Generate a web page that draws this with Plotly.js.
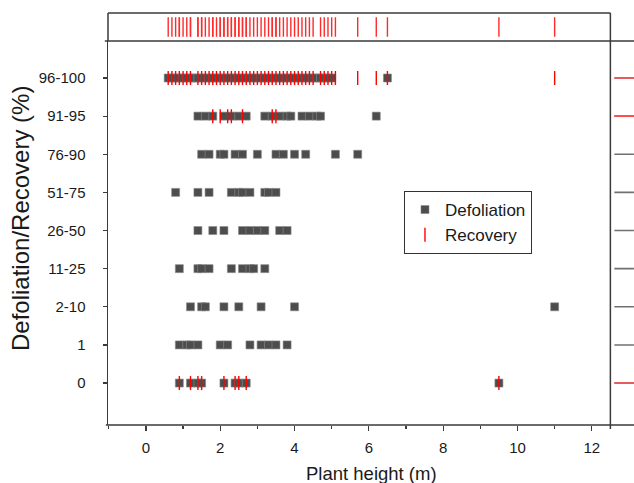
<!DOCTYPE html>
<html>
<head>
<meta charset="utf-8">
<script src="https://cdn.plot.ly/plotly-3.0.1.min.js"></script>
<style>html,body{margin:0;padding:0;background:#fff;}#chart{width:634px;height:483px;}</style>
</head>
<body>
<div id="chart"></div>
<script>
// Categories (bottom to top)
const categories = ['0', '1', '2-10', '11-25', '26-50', '51-75', '76-90', '91-95', '96-100'];

// Defoliation plant heights (m) per category
const defol_0 = [0.9, 1.2, 1.4, 1.5, 2.1, 2.4, 2.5, 2.7, 9.5];
const defol_1 = [0.9, 1.1, 1.2, 1.4, 2.0, 2.2, 2.8, 3.1, 3.3, 3.5, 3.8];
const defol_2_10 = [1.2, 1.5, 1.6, 2.1, 2.5, 3.1, 4.0, 11.0];
const defol_11_25 = [0.9, 1.4, 1.5, 1.7, 2.3, 2.6, 2.8, 2.9, 3.2];
const defol_26_50 = [1.4, 1.8, 2.1, 2.6, 2.8, 3.0, 3.2, 3.6, 3.8];
const defol_51_75 = [0.8, 1.4, 1.7, 2.3, 2.5, 2.6, 2.8, 3.2, 3.3, 3.5];
const defol_76_90 = [1.5, 1.7, 2.0, 2.1, 2.4, 2.6, 3.0, 3.5, 3.7, 4.0, 4.3, 5.1, 5.7];
const defol_91_95 = [1.4, 1.6, 1.8, 2.1, 2.3, 2.5, 2.7, 3.2, 3.4, 3.6, 3.8, 3.9, 4.2, 4.4, 4.6, 4.7, 6.2];
const defol_96_100 = [0.6, 0.7, 0.8, 0.9, 1.0, 1.1, 1.2, 1.3, 1.4, 1.5, 1.6, 1.7, 1.8, 1.9, 2.0,
  2.1, 2.2, 2.3, 2.4, 2.5, 2.6, 2.7, 2.8, 2.9, 3.0, 3.1, 3.2, 3.3, 3.4, 3.5, 3.6, 3.7, 3.8, 3.9, 4.0,
  4.1, 4.2, 4.3, 4.4, 4.5, 4.6, 4.7, 4.8, 4.9, 5.0, 6.5];

// Recovery plant heights (m) per category
const recov_0 = [0.9, 1.2, 1.4, 1.5, 2.1, 2.4, 2.5, 2.7, 9.5];
const recov_91_95 = [1.8, 2.0, 2.2, 2.3, 2.6, 3.4, 3.5];
const recov_96_100 = [0.6, 0.7, 0.8, 0.9, 1.0, 1.1, 1.2, 1.4, 1.5, 1.6, 1.7, 1.8, 1.9, 2.0,
  2.1, 2.2, 2.3, 2.4, 2.5, 2.6, 2.7, 2.8, 2.9, 3.0, 3.1, 3.2, 3.3, 3.4, 3.5, 3.6, 3.7, 3.8, 3.9, 4.0,
  4.1, 4.2, 4.3, 4.4, 4.5, 4.7, 4.8, 4.9, 5.0, 5.1, 5.7, 6.2, 6.5, 11.0];

const xTickVals = [0, 2, 4, 6, 8, 10, 12];

const defolRows = [
  ['0', defol_0], ['1', defol_1], ['2-10', defol_2_10], ['11-25', defol_11_25],
  ['26-50', defol_26_50], ['51-75', defol_51_75], ['76-90', defol_76_90],
  ['91-95', defol_91_95], ['96-100', defol_96_100]
];
const recovRows = [['0', recov_0], ['91-95', recov_91_95], ['96-100', recov_96_100]];

function flatten(rows) {
  const xs = [], ys = [];
  rows.forEach(([cat, vals]) => vals.forEach(v => { xs.push(v); ys.push(cat); }));
  return {xs, ys};
}
const D = flatten(defolRows);
const R = flatten(recovRows);

const XD = 0.9551;   // right end of main x domain
const YD = 0.932;    // top of main y domain

const traces = [
  {
    type: 'scatter', mode: 'markers', name: 'Defoliation',
    x: D.xs, y: D.ys, xaxis: 'x', yaxis: 'y',
    marker: {symbol: 'square', size: 8, color: '#4d4d4d', line: {width: 0.6, color: '#8a8a8a'}},
    cliponaxis: false
  },
  {
    type: 'scatter', mode: 'markers', name: 'Recovery',
    x: R.xs, y: R.ys, xaxis: 'x', yaxis: 'y',
    marker: {symbol: 'line-ns-open', size: 10, color: '#ff0000', line: {width: 1.4, color: '#ff0000'}}
  },
  {
    type: 'scatter', mode: 'markers', showlegend: false,
    x: R.xs, y: R.xs.map(() => 0), xaxis: 'x', yaxis: 'y2',
    marker: {symbol: 'line-ns-open', size: 14, color: '#ff2a2a', line: {width: 1.4, color: '#ff2a2a'}},
    hoverinfo: 'x'
  },
  {
    type: 'scatter', mode: 'markers', showlegend: false,
    x: defolRows.map(() => 0), y: defolRows.map(r => r[0]), xaxis: 'x3', yaxis: 'y',
    marker: {symbol: 'line-ew-open', size: 14, color: '#707070', line: {width: 1.6, color: '#707070'}},
    hoverinfo: 'y'
  },
  {
    type: 'scatter', mode: 'markers', showlegend: false,
    x: recovRows.map(() => 0), y: recovRows.map(r => r[0]), xaxis: 'x3', yaxis: 'y',
    marker: {symbol: 'line-ew-open', size: 14, color: '#ff4a4a', line: {width: 1.6, color: '#ff4a4a'}},
    hoverinfo: 'y'
  }
];

const lineC = '#3a3a3a';
const layout = {
  width: 634, height: 483,
  margin: {l: 108, r: 0, t: 13, b: 58},
  paper_bgcolor: '#ffffff', plot_bgcolor: '#ffffff',
  font: {family: '"Liberation Sans", Arial, sans-serif', color: '#1a1a1a', size: 15},
  showlegend: true,
  legend: {
    x: 0.5627, y: 0.568, xanchor: 'left', yanchor: 'top',
    bgcolor: '#ffffff', bordercolor: '#333333', borderwidth: 1,
    font: {size: 17, color: '#1a1a1a'}, tracegroupgap: 0
  },
  xaxis: {
    domain: [0, XD], anchor: 'y', range: [-1.02, 12.5],
    tickvals: xTickVals, ticks: 'outside', ticklen: 5, tickwidth: 1.2, tickcolor: lineC,
    minor: {dtick: 1, tick0: 0, ticks: 'outside', ticklen: 3, tickwidth: 1.2, tickcolor: lineC, showgrid: false},
    showgrid: false, zeroline: false, showline: false,
    tickfont: {size: 15}, ticklabelstandoff: 4
  },
  yaxis: {
    domain: [0, YD], anchor: 'x', type: 'category', categoryorder: 'array', categoryarray: categories,
    range: [-1.1, 8.97], ticks: 'outside', ticklen: 4, tickwidth: 1.2, tickcolor: lineC,
    showgrid: false, zeroline: false, showline: true, linecolor: lineC, linewidth: 1.5,
    tickfont: {size: 15}, ticklabelstandoff: 14
  },
  yaxis2: {domain: [YD, 1], anchor: 'x', range: [-1, 1], visible: false, fixedrange: true},
  xaxis3: {domain: [XD, 1], anchor: 'y', range: [-1.4, 1], visible: false, fixedrange: true},
  annotations: [
    {text: 'Defoliation/Recovery (%)', xref: 'paper', yref: 'paper', x: 0, y: 0.5,
     xanchor: 'center', yanchor: 'middle', xshift: -88, textangle: -90,
     showarrow: false, font: {size: 24, color: '#1a1a1a'}},
    {text: 'Plant height (m)', xref: 'paper', yref: 'paper', x: 0.5, y: 0,
     xanchor: 'center', yanchor: 'middle', yshift: -48,
     showarrow: false, font: {size: 18.5, color: '#1a1a1a'}}
  ],
  shapes: [
    {type: 'line', xref: 'paper', yref: 'paper', x0: -0.004, x1: 1, y0: 0, y1: 0, line: {color: lineC, width: 1.5}},
    {type: 'line', xref: 'paper', yref: 'paper', x0: -0.006, x1: 1, y0: YD, y1: YD, line: {color: lineC, width: 1.5}},
    {type: 'line', xref: 'paper', yref: 'paper', x0: XD, x1: XD, y0: -0.01, y1: 1, line: {color: lineC, width: 1.5}},
    {type: 'line', xref: 'paper', yref: 'paper', x0: 0, x1: XD, y0: 1, y1: 1, line: {color: lineC, width: 1.5}},
    {type: 'line', xref: 'paper', yref: 'paper', x0: 0, x1: 0, y0: YD, y1: 1, line: {color: lineC, width: 1.5}}
  ]
};

Plotly.newPlot('chart', traces, layout, {displayModeBar: false, staticPlot: true});
</script>
</body>
</html>
